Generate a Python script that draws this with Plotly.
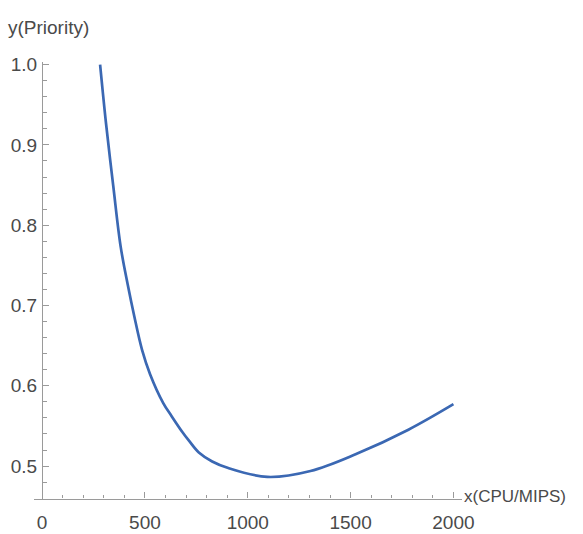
import plotly.graph_objects as go

cpu = [282, 311, 346, 382, 416, 449, 486, 525, 589, 629, 681, 716, 762, 827, 905, 1095, 1305, 1524, 1781, 2000]
priority = [1.0, 0.9263, 0.8488, 0.7733, 0.7264, 0.6857, 0.6448, 0.6145, 0.5785, 0.5625, 0.5428, 0.5310,
            0.5170, 0.5058, 0.4976, 0.4865, 0.4939, 0.5147, 0.5453, 0.5771]

x_ticks = [0, 500, 1000, 1500, 2000]
y_ticks = [0.5, 0.6, 0.7, 0.8, 0.9, 1.0]
y_tick_text = ["0.5", "0.6", "0.7", "0.8", "0.9", "1.0"]

W, H = 583, 534
FONT = "Liberation Sans, Arial, sans-serif"
FS = 19
AX = "#9a9a9a"
TXT = "#4a4a4a"

fig = go.Figure()
fig.add_trace(go.Scatter(
    x=cpu, y=priority, mode="lines",
    line=dict(color="#3b68b3", width=2.7, shape="spline", smoothing=1.0),
    showlegend=False, hoverinfo="skip",
))

x0_px, x1_px = 35, 472
y_top_px, y_bot_px = 55, 498
xr = [-38, 2043]
yr = [0.4596, 1.003]

px_per_unit = (x1_px - x0_px) / (xr[1] - xr[0])
yaxis_pos_px = x0_px + (0 - xr[0]) * px_per_unit

fig.update_layout(
    width=W, height=H,
    margin=dict(l=0, r=0, t=0, b=0),
    paper_bgcolor="white", plot_bgcolor="white",
    font=dict(family=FONT, size=FS, color=TXT),
    xaxis=dict(
        domain=[x0_px / W, x1_px / W],
        range=xr, showgrid=False, zeroline=False,
        showline=True, linecolor=AX, linewidth=1.3,
        tickmode="array", tickvals=x_ticks,
        ticks="inside", ticklen=6, tickcolor=AX, tickwidth=1,
        ticklabelstandoff=7,
        tickfont=dict(family=FONT, size=FS, color=TXT),
        minor=dict(dtick=100, tick0=0, ticks="inside", ticklen=3.5, tickcolor=AX, tickwidth=1, showgrid=False),
    ),
    yaxis=dict(
        domain=[1 - y_bot_px / H, 1 - y_top_px / H],
        range=yr, showgrid=False, zeroline=False,
        anchor="free", position=yaxis_pos_px / W,
        showline=True, linecolor=AX, linewidth=1.3,
        tickmode="array", tickvals=y_ticks, ticktext=y_tick_text,
        ticks="inside", ticklen=6, tickcolor=AX, tickwidth=1,
        ticklabelstandoff=1,
        tickfont=dict(family=FONT, size=FS, color=TXT),
        minor=dict(dtick=0.02, tick0=0.5, ticks="inside", ticklen=3.5, tickcolor=AX, tickwidth=1, showgrid=False),
    ),
    annotations=[
        dict(text="y(Priority)", xref="paper", yref="paper",
             x=6 / W, y=1 - 20 / H, xanchor="left", yanchor="middle",
             showarrow=False, font=dict(family=FONT, size=FS, color=TXT)),
        dict(text="x(CPU/MIPS)", xref="paper", yref="paper",
             x=580 / W, y=1 - 496 / H, xanchor="right", yanchor="middle",
             showarrow=False, font=dict(family=FONT, size=17, color=TXT)),
    ],
)

fig.write_html("out.html")
